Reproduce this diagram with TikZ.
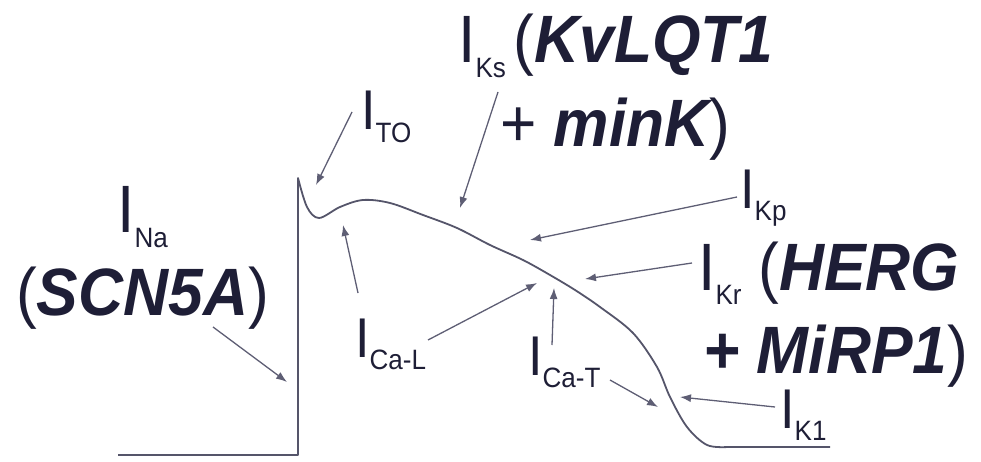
\documentclass[tikz,border=0pt]{standalone}
\usepackage{fontspec}
\setmainfont[FakeStretch=0.93]{Liberation Sans}
\usetikzlibrary{arrows.meta,calc}
\definecolor{ink}{HTML}{1E1E36}
\definecolor{tracecol}{HTML}{55556A}
\definecolor{leadcol}{HTML}{5E5E74}
\newcommand{\chan}[1]{I\raisebox{-.22em}{\fontsize{28}{30}\selectfont #1}}
\newcommand{\gene}[1]{{\bfseries\itshape #1}}
\tikzset{
 every node/.append style={text=ink,inner sep=0pt,anchor=base west},
 lab/.style={font=\fontsize{56}{60}\selectfont},
 biglab/.style={font=\fontsize{67}{72}\selectfont},
 trace/.style={draw=tracecol,line width=1.8pt,line join=round},
 leader/.style={-{Latex[length=11pt,width=8pt]},draw=leadcol,line width=1.3pt},
}

\begin{document}
\begin{tikzpicture}[x=1pt,y=-1pt]

\useasboundingbox (0,0) rectangle (981,462);
% action potential trace
\draw[trace] (118,455) -- (298,455) -- plot[smooth,tension=.55] coordinates {(298,178) (307,207) (319,218) (340,207) (363,200) (390,203) (423,215) (457,228) (490,245) (523,260) (550,275) (575,290) (600,307) (633,333) (657,367) (670,397) (687,427) (707,445) (728,447)} -- (830,447);
% arrow tips on the trace
\coordinate (tna) at (287,382);
\coordinate (tto) at (316,185);
\coordinate (tks) at (460,208);
\coordinate (tkp) at (530,240);
\coordinate (tkr) at (585,279);
\coordinate (tcal1) at (343,225);
\coordinate (tcal2) at (537,283);
\coordinate (tcat1) at (554,288);
\coordinate (tcat2) at (658,407);
\coordinate (tk1) at (680,397);
% labels
\node[biglab] (ina) at (117,233) {\chan{Na}};
\node[biglab] (inab) at (16,315) {(\gene{SCN5A})};
\node[lab] (ito) at (361,130) {\chan{TO}};
\node[biglab] (iks) at (458,63) {\chan{Ks}\hspace{8pt}(\gene{KvLQT1}};
\node[biglab] (iksb) at (500,147) {+ \gene{minK})};
\node[lab] (ikp) at (740,208) {\chan{Kp}};
\node[biglab] (ikr) at (698,290) {\chan{Kr}\hspace{17pt}(\gene{HERG}};
\node[biglab] (ikrb) at (703,373) {\gene{+ MiRP1})};
\node[lab] (ical) at (355,357) {\chan{Ca-L}};
\node[lab] (icat) at (528,375) {\chan{Ca-T}};
\node[lab] (ik1) at (780,428) {\chan{K1}};
% leaders
\draw[leader] ([shift={(197,12)}]inab.base west) -- (tna);
\draw[leader] ([shift={(-9,-18)}]ito.base west) -- (tto);
\draw[leader] ([shift={(40,29)}]iks.base west) -- (tks);
\draw[leader] ([shift={(-3,-11)}]ikp.base west) -- (tkp);
\draw[leader] ([shift={(-6,-27)}]ikr.base west) -- (tkr);
\draw[leader] ([shift={(3,-64)}]ical.base west) -- (tcal1);
\draw[leader] ([shift={(73,-17)}]ical.base west) -- (tcal2);
\draw[leader] ([shift={(24,-30)}]icat.base west) -- (tcat1);
\draw[leader] ([shift={(82,5)}]icat.base west) -- (tcat2);
\draw[leader] ([shift={(-5,-21)}]ik1.base west) -- (tk1);

\end{tikzpicture}
\end{document}
